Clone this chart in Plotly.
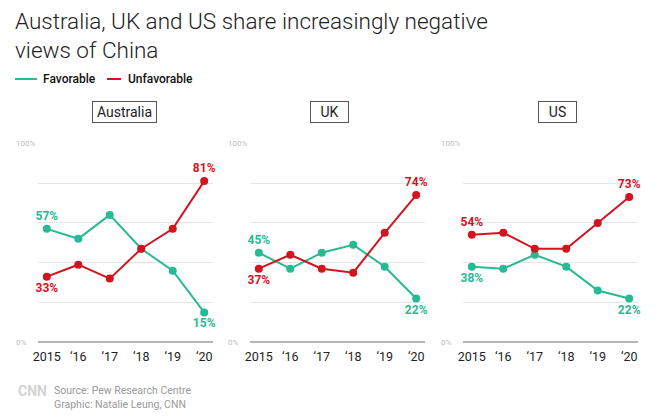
import plotly.graph_objects as go

years = ["2015", "\u201816", "\u201817", "\u201818", "\u201819", "\u201820"]
countries = ["Australia", "UK", "US"]
favorable = {
    "Australia": [57, 52, 64, 47, 36, 15],
    "UK": [45, 37, 45, 49, 38, 22],
    "US": [38, 37, 44, 38, 26, 22],
}
unfavorable = {
    "Australia": [33, 39, 32, 47, 57, 81],
    "UK": [37, 44, 37, 35, 55, 74],
    "US": [54, 55, 47, 47, 60, 73],
}
grid_vals = [0, 20, 40, 60, 80, 100]
ylabel_vals = [0, 100]
ylabel_text = ["0%", "100%"]

TEAL = "#27ba93"
RED = "#d3141f"
OFF = 8  # default page body margin
W, H = 660 - OFF, 420 - OFF


def px(x):
    return (x - OFF) / W


def py(y):
    return 1 - (y - OFF) / H


# pixel layout of panels (in window pixels)
x_domains_px = [(38, 213), (250, 425), (463, 638)]
box_centers_px = [124.5, 329.5, 557.5]
box_widths = [59, 33, 33]
y_top_px, y_bot_px = 143.3, 342.3

fig = go.Figure()


def label_positions(a, b):
    txt, pos = [], []
    for i, v in enumerate(a):
        if i in (0, len(a) - 1):
            txt.append(f"{v}%")
        else:
            txt.append("")
        pos.append("top center" if v >= b[i] else "bottom center")
    return txt, pos


for k, c in enumerate(countries):
    ax = "" if k == 0 else str(k + 1)
    for vals, other, col, name in [
        (favorable[c], unfavorable[c], TEAL, "Favorable"),
        (unfavorable[c], favorable[c], RED, "Unfavorable"),
    ]:
        txt, pos = label_positions(vals, other)
        fig.add_trace(go.Scatter(
            x=years, y=vals, mode="lines+markers+text",
            text=txt, textposition=pos,
            textfont=dict(family="Roboto", size=12, color=col, weight="bold"),
            line=dict(color=col, width=2),
            marker=dict(color=col, size=8),
            name=name, showlegend=False, cliponaxis=False,
            xaxis="x" + ax, yaxis="y" + ax, hoverinfo="skip",
        ))
    d0, d1 = x_domains_px[k]
    fig.update_layout(**{
        "xaxis" + ax: dict(
            domain=[px(d0), px(d1)], type="category", range=[-0.28, 5.28],
            showgrid=False, zeroline=False, showline=False, ticks="",
            tickfont=dict(family="Roboto", size=12.5, color="#222"),
            ticklabelstandoff=5,
            anchor="y" + ax, fixedrange=True, automargin=False,
        ),
        "yaxis" + ax: dict(
            domain=[py(y_bot_px), py(y_top_px)], range=[0, 100],
            tickvals=grid_vals, showticklabels=False,
            showgrid=True, gridcolor="#e6e6e6", gridwidth=1,
            zeroline=True, zerolinecolor="#b5b5b5", zerolinewidth=1.5,
            showline=False, ticks="",
            anchor="x" + ax, fixedrange=True, automargin=False,
        ),
    })
    # y labels, left aligned, drawn on the axis scale
    for v, t in zip(ylabel_vals, ylabel_text):
        fig.add_annotation(
            text=t, xref="paper", yref="y" + ax, x=px(d0 - 23), y=v,
            xanchor="left", yanchor="middle", align="left", showarrow=False,
            width=35 if v == 100 else None, borderpad=0,
            bgcolor="white" if v == 100 else None,
            font=dict(family="Roboto", size=8, color="#bdbdbd"),
        )
    fig.add_annotation(
        text=c, xref="paper", yref="paper",
        x=px(box_centers_px[k]), y=py(112), xanchor="center", yanchor="middle",
        showarrow=False, font=dict(family="Roboto", size=14, color="#222"),
        bordercolor="#555", borderwidth=1, borderpad=2, bgcolor="white",
        width=box_widths[k], align="center",
    )

# Title
for line, yc in [("Australia, UK and US share increasingly negative", 21),
                 ("views of China", 50)]:
    fig.add_annotation(
        text=line, xref="paper", yref="paper", x=px(13), y=py(yc),
        xanchor="left", yanchor="middle", align="left", showarrow=False,
        font=dict(family="Roboto", size=22.5, color="#222", weight=300),
    )

# Legend (manual)
leg_y = py(79)
for (x0, x1, tx, col, name) in [(15, 37, 41, TEAL, "Favorable"), (107, 121, 126, RED, "Unfavorable")]:
    fig.add_shape(type="line", xref="paper", yref="paper", x0=px(x0), x1=px(x1),
                  y0=leg_y, y1=leg_y, line=dict(color=col, width=2))
    fig.add_annotation(text=name, xref="paper", yref="paper", x=px(tx), y=leg_y,
                       xanchor="left", yanchor="middle", showarrow=False,
                       font=dict(family="Roboto", size=12, color="#111", weight=500))

# Footer
fig.add_annotation(text="CNN", xref="paper", yref="paper", x=px(16), y=py(391),
                   xanchor="left", yanchor="middle", showarrow=False,
                   font=dict(family="Roboto", size=14, color="#d2d2d2", weight="bold"))
fig.add_annotation(text="Source: Pew Research Centre", xref="paper", yref="paper",
                   x=px(52), y=py(390), xanchor="left", yanchor="middle", showarrow=False,
                   font=dict(family="Roboto", size=10.5, color="#9a9a9a"))
fig.add_annotation(text="Graphic: Natalie Leung, CNN", xref="paper", yref="paper",
                   x=px(52), y=py(404), xanchor="left", yanchor="middle", showarrow=False,
                   font=dict(family="Roboto", size=10.5, color="#9a9a9a"))

fig.update_layout(
    width=W, height=H, margin=dict(l=0, r=0, t=0, b=0),
    paper_bgcolor="white", plot_bgcolor="white", showlegend=False,
)

fig.write_html("out.html")
